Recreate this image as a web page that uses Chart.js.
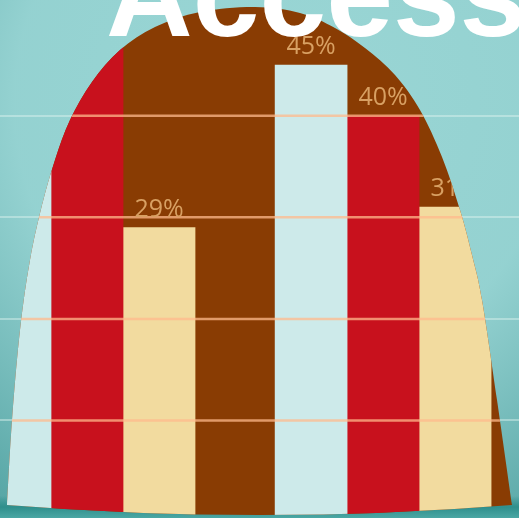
<!DOCTYPE html>
<html>
<head>
<meta charset="utf-8">
<script src="https://cdn.jsdelivr.net/npm/chart.js@4.4.1/dist/chart.umd.min.js"></script>
<style>
  html, body { margin: 0; padding: 0; background: #8fd0d0; overflow: hidden; }
  #wrap { width: 519px; height: 518px; }
</style>
</head>
<body>
<div id="wrap"><canvas id="canvas"></canvas></div>
<script>
// data (first group's light blue / red run past the dome)
var groups = [1, 2];
var lightBlue = [50, 45];
var red = [50, 40];
var cream = [29, 31];
var gridTicks = [10, 20, 30, 40];
var title = 'Access';

var colors = {
  lightBlue: '#cdeaea',
  red: '#c8111d',
  cream: '#f2db9f',
  brown: '#893c03',
  label: '#d8a063'
};

function points(values) {
  return values.map(function (v, i) { return { x: groups[i], y: v }; });
}

// outline of the brown dome (decoration), in a 519x518 frame
var domeOutline = [
  [7, 505], [12, 420], [20, 330], [30, 260], [42, 205], [55, 160], [70, 120],
  [92, 82], [120, 50], [155, 27], [200, 12], [255, 7], [300, 13], [335, 28],
  [365, 48], [395, 75], [420, 110], [442, 157], [460, 210], [472, 255],
  [482, 300], [497, 400], [512, 505]
];

function domePath(ctx, a) {
  var sx = (a.right - a.left) / 519, sy = (a.bottom - a.top) / 518;
  var p = domeOutline.map(function (q) { return [a.left + q[0] * sx, a.top + q[1] * sy]; });
  ctx.beginPath();
  ctx.moveTo(p[0][0], p[0][1]);
  for (var i = 0; i < p.length - 1; i++) {
    var p0 = p[Math.max(i - 1, 0)], p1 = p[i], p2 = p[i + 1], p3 = p[Math.min(i + 2, p.length - 1)];
    ctx.bezierCurveTo(
      p1[0] + (p2[0] - p0[0]) / 6, p1[1] + (p2[1] - p0[1]) / 6,
      p2[0] - (p3[0] - p1[0]) / 6, p2[1] - (p3[1] - p1[1]) / 6,
      p2[0], p2[1]);
  }
  ctx.quadraticCurveTo(a.left + 260 * sx, a.top + 525 * sy, p[0][0], p[0][1]);
  ctx.closePath();
}

var backdrop = {
  id: 'backdrop',
  beforeDraw: function (chart) {
    var ctx = chart.ctx, w = chart.width, h = chart.height;
    ctx.save();
    ctx.fillStyle = '#9ad6d5';
    ctx.fillRect(0, 0, w, h);
    var r = ctx.createRadialGradient(w * 0.55, h * 0.2, 0, w * 0.55, h * 0.2, w * 0.95);
    r.addColorStop(0, 'rgba(40,130,130,0)');
    r.addColorStop(0.55, 'rgba(40,130,130,0.05)');
    r.addColorStop(1, 'rgba(30,125,125,0.55)');
    ctx.fillStyle = r;
    ctx.fillRect(0, 0, w, h);
    var b = ctx.createLinearGradient(0, h - 22, 0, h);
    b.addColorStop(0, 'rgba(40,140,138,0)');
    b.addColorStop(0.5, '#2f8f8c');
    b.addColorStop(1, '#4aa7a4');
    ctx.fillStyle = b;
    ctx.fillRect(0, h - 22, w, 22);
    ctx.restore();
  },
  beforeDatasetsDraw: function (chart) {
    var ctx = chart.ctx;
    ctx.save();
    domePath(ctx, chart.chartArea);
    ctx.fillStyle = colors.brown;
    ctx.fill();
    ctx.clip();
  },
  afterDatasetsDraw: function (chart) {
    var ctx = chart.ctx, y = chart.scales.y, a = chart.chartArea;
    // grid lines show stronger where they cross the dome
    ctx.strokeStyle = 'rgba(255, 185, 140, 0.75)';
    ctx.lineWidth = 2.5;
    gridTicks.forEach(function (v) {
      var py = y.getPixelForValue(v);
      ctx.beginPath();
      ctx.moveTo(a.left, py);
      ctx.lineTo(a.right, py);
      ctx.stroke();
    });
    ctx.font = '25px "Open Sans", sans-serif';
    ctx.fillStyle = colors.label;
    ctx.textAlign = 'center';
    ctx.textBaseline = 'middle';
    chart.data.datasets.forEach(function (ds, di) {
      chart.getDatasetMeta(di).data.forEach(function (bar, i) {
        ctx.fillText(ds.data[i].y + '%', bar.x, bar.y - 18);
      });
    });
    ctx.restore();
  },
  afterDraw: function (chart) {
    var ctx = chart.ctx;
    ctx.save();
    ctx.font = 'bold 120px "Liberation Sans", Arial, sans-serif';
    ctx.fillStyle = '#ffffff';
    ctx.textAlign = 'left';
    ctx.textBaseline = 'alphabetic';
    ctx.fillText(title, 106, 36);
    ctx.restore();
  }
};

var ctx = document.getElementById('canvas').getContext('2d');

var chart = new Chart(ctx, {
  type: 'bar',
  data: {
    datasets: [
      { data: points(lightBlue), backgroundColor: colors.lightBlue },
      { data: points(red), backgroundColor: colors.red },
      { data: points(cream), backgroundColor: colors.cream }
    ]
  },
  options: {
    responsive: true,
    maintainAspectRatio: false,
    animation: false,
    layout: { padding: 0 },
    datasets: {
      bar: { barThickness: 72, borderWidth: 0 }
    },
    plugins: {
      legend: { display: false },
      tooltip: { enabled: false }
    },
    scales: {
      x: {
        type: 'linear',
        offset: false,
        min: 0.706,
        max: 2.459,
        display: false
      },
      y: {
        min: 0.4,
        max: 51.4,
        z: 1,
        afterBuildTicks: function (scale) {
          scale.ticks = gridTicks.map(function (v) { return { value: v }; });
        },
        ticks: { display: false },
        border: { display: false },
        grid: {
          color: 'rgba(225, 245, 240, 0.45)',
          lineWidth: 2,
          drawTicks: false
        }
      }
    }
  },
  plugins: [backdrop]
});
</script>
</body>
</html>
